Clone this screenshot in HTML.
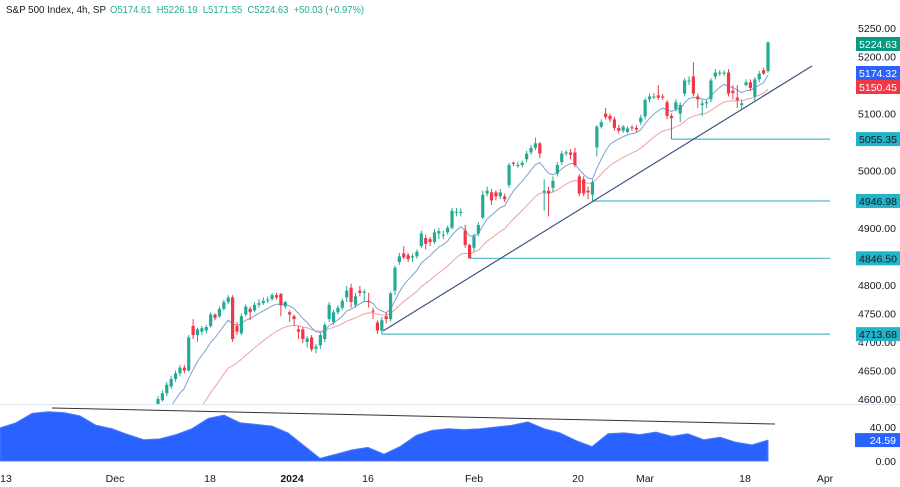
<!DOCTYPE html>
<html><head><meta charset="utf-8"><style>
html,body{margin:0;padding:0;background:#fff;width:900px;height:487px;overflow:hidden}
svg{display:block;font-family:"Liberation Sans",sans-serif}
</style></head><body>
<svg id="chart" width="900" height="487" viewBox="0 0 900 487" xmlns="http://www.w3.org/2000/svg">
<g id="header">
<text x="6" y="13" font-size="10.5" fill="#131722" textLength="100" lengthAdjust="spacingAndGlyphs">S&amp;P 500 Index, 4h, SP</text>
<text x="110" y="13" font-size="10.5" fill="#22ab94" textLength="254" lengthAdjust="spacingAndGlyphs">O5174.61 &#160;H5226.19 &#160;L5171.55 &#160;C5224.63 &#160;+50.03 (+0.97%)</text>
</g>
<line x1="0" y1="404.5" x2="900" y2="404.5" stroke="#e0e3eb"/>
<g id="indicator"></g>
<g id="main"></g>
<g id="axis"></g>
<g id="xaxis"></g>
</svg>
<script>
const opens=[4590,4598,4610,4622,4635,4645,4655,4650,4728,4712,4718,4720,4728,4748,4745,4758,4770,4778,4728,4715,4748,4758,4755,4765,4768,4772,4775,4782,4784,4762,4752,4745,4722,4722,4700,4708,4688,4694,4705,4740,4735,4752,4760,4778,4795,4765,4790,4786,4772,4755,4734,4720,4745,4740,4790,4840,4855,4852,4848,4850,4868,4882,4880,4875,4890,4888,4892,4900,4928,4928,4895,4870,4865,4890,4918,4960,4962,4962,4955,4955,4975,5014,5010,5010,5020,5032,5040,5048,4962,4965,4970,4995,5015,5030,5032,5032,4990,4985,4965,4958,5041,5077,5100,5096,5090,5075,5070,5068,5076,5075,5085,5095,5125,5130,5132,5130,5120,5096,5108,5100,5135,5158,5165,5130,5115,5118,5125,5165,5170,5172,5172,5140,5128,5115,5150,5155,5130,5160,5176,5174.61];
const closes=[4600,4610,4625,4635,4645,4655,4650,4708,4712,4722,4724,4726,4748,4742,4758,4770,4778,4705,4718,4745,4762,4752,4765,4768,4772,4774,4782,4778,4764,4770,4748,4740,4718,4705,4706,4687,4692,4712,4730,4765,4752,4760,4772,4790,4770,4780,4786,4788,4770,4754,4720,4738,4740,4785,4830,4850,4848,4845,4850,4858,4890,4872,4875,4892,4894,4888,4900,4930,4928,4928,4870,4846.5,4885,4905,4958,4965,4948,4955,4962,4950,5010,5012,5010,5014,5030,5040,5048,5030,4965,4960,4982,5010,5030,5032,5028,5010,4960,4960,4962,4980,5077,5085,5094,5090,5075,5070,5077,5074,5075,5072,5093,5124,5130,5130,5128,5128,5096,5092,5120,5115,5158,5158,5135,5125,5118,5120,5158,5172,5172,5172,5135,5136,5124,5118,5155,5145,5160,5170,5170,5224.63];
const highs=[4605,4615,4630,4640,4650,4660,4660,4712,4740,4725,4728,4730,4752,4750,4762,4774,4782,4782,4735,4750,4766,4762,4770,4775,4778,4780,4786,4786,4786,4772,4755,4748,4728,4726,4710,4712,4696,4716,4734,4770,4756,4764,4776,4798,4802,4786,4798,4792,4786,4760,4738,4744,4752,4788,4834,4856,4868,4856,4855,4862,4895,4888,4884,4898,4900,4895,4904,4935,4935,4934,4905,4872,4890,4910,4965,4972,4968,4966,4968,4960,5014,5016,5016,5018,5035,5045,5058,5050,4985,4972,4990,5015,5035,5036,5038,5040,4994,4990,4972,4984,5080,5090,5110,5100,5094,5080,5080,5078,5080,5080,5098,5128,5135,5136,5150,5134,5124,5100,5125,5120,5162,5165,5190,5135,5125,5125,5162,5178,5176,5176,5178,5150,5150,5125,5160,5160,5164,5175,5180,5226.19];
const lows=[4585,4595,4605,4618,4630,4640,4645,4648,4705,4700,4712,4715,4725,4738,4742,4755,4766,4700,4712,4712,4745,4738,4752,4760,4765,4768,4772,4774,4745,4758,4735,4728,4705,4698,4690,4683,4680,4688,4700,4735,4730,4748,4756,4770,4760,4760,4780,4770,4760,4740,4714,4714,4733,4736,4782,4835,4845,4840,4840,4846,4865,4862,4868,4872,4880,4880,4888,4897,4920,4920,4865,4846.5,4858,4885,4915,4955,4940,4948,4950,4945,4970,5008,5005,5006,5015,5028,5036,5022,4930,4920,4962,4990,5010,5026,5020,5006,4955,4955,4950,4946.98,5025,5074,5090,5085,5070,5065,5066,5065,5070,5068,5080,5090,5120,5125,5124,5124,5090,5055.35,5104,5085,5130,5150,5130,5110,5095,5110,5120,5160,5166,5166,5130,5125,5110,5108,5148,5140,5120,5155,5168,5171.55];
const oscValues=[39,45,56,58,57,53,42,38,31,25,26,31,38,50,54,45,43,41,33,18,3,8,13,16,8,17,30,36,38,37,38,40,42,46,38,33,24,17,32,33,31,34,29,32,25,28,22,19,24.59];
const priceTicks=[5250,5200,5100,5000,4900,4800,4750,4700,4650,4600];
const levels=[5055.35,4946.98,4846.5,4713.68];
const levelStartIdx=[117,99,71,51];
const dateLabels=["13","Dec","18","2024","16","Feb","20","Mar","18","Apr"];
const dateX=[6,115,210,292,368,474,578,645,745,825];
const oscTicks=[40,0];

const NS="http://www.w3.org/2000/svg";
function el(tag,attrs,parent){const e=document.createElementNS(NS,tag);for(const k in attrs)e.setAttribute(k,attrs[k]);parent.appendChild(e);return e;}
const yP=p=>28+(5250-p)*0.5708;
const x0=158,x1=768;
const xI=i=>x0+i*(x1-x0)/(closes.length-1);
const yO=v=>461-v*0.85;
const main=document.getElementById('main'),axis=document.getElementById('axis'),ind=document.getElementById('indicator'),xa=document.getElementById('xaxis');
const clip=el('clipPath',{id:'mc'},document.getElementById('chart'));
el('rect',{x:0,y:20,width:830,height:384},clip);
main.setAttribute('clip-path','url(#mc)');

function ema(n,seed){let v=seed;return closes.map(c=>(v=v+(c-v)*2/(n+1)));}
const maFast=ema(9,4540),maSlow=ema(24,4460);
[[maSlow,'#e8a3a3','ma-slow-line'],[maFast,'#7f9fd6','ma-fast-line']].forEach(([arr,col,nm])=>{
 const p=el('polyline',{points:arr.map((v,i)=>xI(i).toFixed(1)+','+yP(v).toFixed(1)).join(' '),fill:'none',stroke:col,'stroke-width':1},main);
 
 
});
levels.forEach((lv,k)=>{
 const l=el('line',{x1:xI(levelStartIdx[k]),x2:830,y1:yP(lv),y2:yP(lv),stroke:'#4fb9c8','stroke-width':1.2},main);
 
 
});
const tl=el('line',{x1:383,y1:331,x2:812,y2:66,stroke:'#3d5680','stroke-width':1.2},main);


closes.forEach((c,i)=>{
 const o=opens[i],up=c>=o,col=up?'#22ab94':'#f23645',x=xI(i);
 const g=el('g',{},main);
 
 
 el('line',{x1:x,x2:x,y1:yP(highs[i]),y2:yP(lows[i]),stroke:col,'stroke-width':1},g);
 const t=Math.min(yP(o),yP(c)),h=Math.max(1,Math.abs(yP(o)-yP(c)));
 el('rect',{x:x-1.6,y:t,width:3.2,height:h,fill:col},g);
});
priceTicks.forEach(p=>{
 const t=el('text',{x:896,y:yP(p)+4,'font-size':10.5,fill:'#131722','text-anchor':'end'},axis);
 t.textContent=p.toFixed(2);
 
 
});
function badge(v,y,bg,fg,nm){
 const g=el('g',{},axis);
 
 
 el('rect',{x:856,y:y-7,width:44,height:14,fill:bg},g);
 const t=el('text',{x:897,y:y+4,'font-size':10.5,fill:fg,'text-anchor':'end'},g);
 t.textContent=v.toFixed(2);
}
levels.forEach(lv=>badge(lv,yP(lv),'#22b5c9','#131722','level-price-badge'));
badge(5150.45,87,'#f23645','#fff','ma-slow-badge');
badge(5174.32,73,'#2962ff','#fff','ma-fast-badge');
badge(closes[closes.length-1],44,'#089981','#fff','last-price-badge');
const step=768/(oscValues.length-1);
let d='M0,'+yO(0);
oscValues.forEach((v,i)=>{d+=' L'+(i*step).toFixed(1)+','+yO(v).toFixed(1);});
d+=' L768,'+yO(0)+' Z';
const area=el('path',{d:d,fill:'#2962ff',stroke:'#4a7cff','stroke-width':1,'stroke-linejoin':'round'},ind);


const il=el('line',{x1:52,y1:408,x2:775,y2:424,stroke:'#333','stroke-width':1},ind);


oscTicks.forEach(v=>{
 const t=el('text',{x:896,y:yO(v)+4,'font-size':10.5,fill:'#131722','text-anchor':'end'},ind);
 t.textContent=v.toFixed(2);
 
 
});
const ob=el('g',{},ind);


el('rect',{x:855,y:yO(24.59)-7,width:45,height:14,fill:'#2962ff'},ob);
const obt=el('text',{x:896,y:yO(24.59)+4,'font-size':10.5,fill:'#fff','text-anchor':'end'},ob);
obt.textContent=oscValues[oscValues.length-1].toFixed(2);
dateLabels.forEach((s,i)=>{
 const t=el('text',{x:dateX[i],y:482,'font-size':10.5,fill:'#131722','text-anchor':'middle','font-weight':s==='2024'?'bold':'normal'},xa);
 t.textContent=s;
 
 
});
</script>
</body></html>
